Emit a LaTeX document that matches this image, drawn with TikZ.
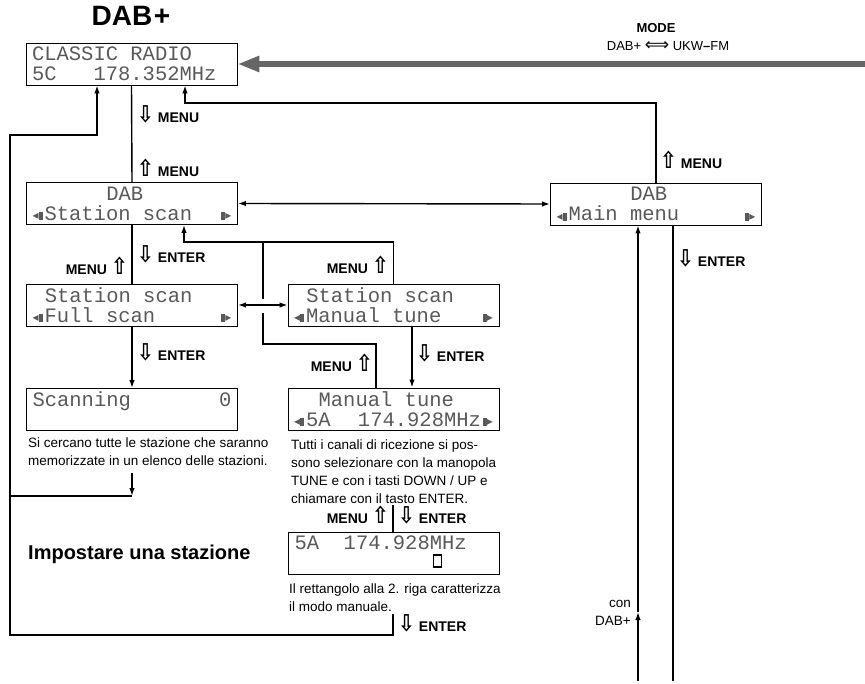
\documentclass[tikz,border=0pt]{standalone}
\usepackage{fontspec}
\setmainfont{Liberation Sans}
\newfontfamily\lcdfont{Liberation Mono}
\newfontfamily\symfont{DejaVu Sans}
\usepackage{graphicx}
\usepackage{xcolor}
\usetikzlibrary{arrows.meta}

\definecolor{lcdtext}{gray}{0.35}
\definecolor{modegray}{gray}{0.4}

% key arrows and display marks
\newcommand{\keyarrowdn}{{\symfont\fontsize{16}{16}\selectfont\scalebox{1.25}[1.45]{⇩}}}
\newcommand{\keyarrowup}{{\symfont\fontsize{16}{16}\selectfont\scalebox{1.25}[1.45]{⇧}}}
\newcommand{\downkey}[1]{\keyarrowdn\hspace{4pt}#1}
\newcommand{\upkey}[1]{\keyarrowup\hspace{4pt}#1}
\newcommand{\keyafter}[1]{#1\hspace{4pt}\keyarrowup}
\newcommand{\lcdgap}[1]{\hspace*{#1\dimexpr0.6em\relax}}
\newcommand{\lcdsp}{\lcdgap{1}}
\newcommand{\lmark}{\makebox[12pt][l]{\raisebox{0.5pt}{\symfont\fontsize{12}{12}\selectfont ◂}\rule{4pt}{8pt}}}
\newcommand{\rmark}{\makebox[12pt][r]{\rule{4pt}{8pt}\raisebox{0.5pt}{\symfont\fontsize{12}{12}\selectfont ▸}}}

\begin{document}
\begin{tikzpicture}[
    x=1pt, y=-1pt,
    lcd/.style={draw, line width=0.9pt, minimum width=211pt, minimum height=42pt,
        text width=199pt, inner xsep=6pt, inner ysep=0pt, align=left,
        font=\lcdfont\fontsize{20.5}{20}\selectfont, text=lcdtext},
    link/.style={line width=1.4pt},
    arr/.style={link, -{Latex[length=8pt,width=5.5pt]}},
    dblarr/.style={link, {Latex[length=8pt,width=5.5pt]}-{Latex[length=8pt,width=5.5pt]}},
    modearrow/.style={line width=6pt, draw=modegray, -{Triangle[length=22pt,width=15pt]}},
    key/.style={font=\bfseries\fontsize{14}{16}\selectfont, inner sep=0pt},
    note/.style={font=\fontsize{13.5}{18}\selectfont, align=left, inner sep=0pt}
]
    \useasboundingbox (0,0) rectangle (865,684);

    % Titles
    \node[font=\bfseries\fontsize{28}{28}\selectfont] (title) at (131,16) {DAB\kern1.5pt+};
    \node[font=\bfseries\fontsize{13}{13}\selectfont] (modekey) at (656,28) {MODE};
    \node[font=\fontsize{13}{13}\selectfont] (modeswap) at (668,46) {DAB+ {\symfont\fontsize{17}{17}\selectfont ⟺} UKW{\bfseries –}FM};
    \node[font=\bfseries\fontsize{20}{20}\selectfont, anchor=west, inner sep=0pt] (setlbl) at (28,554) {Impostare una stazione};

    % Displays
    \node[lcd] (radio) at (131.5,64) {CLASSIC\lcdsp RADIO\\5C\lcdgap{3}178.352MHz};
    \node[lcd] (scan) at (132,203.5) {\lcdgap{6}DAB\\\lmark Station\lcdsp scan\hfill\rmark};
    \node[lcd] (main) at (656,204) {\lcdgap{6}DAB\\\lmark Main\lcdsp menu\hfill\rmark};
    \node[lcd] (full) at (132,305) {\lcdgap{1}Station\lcdsp scan\\\lmark Full\lcdsp scan\hfill\rmark};
    \node[lcd] (manual) at (393.5,305) {\lcdgap{1}Station\lcdsp scan\\\lmark Manual\lcdsp tune\hfill\rmark};
    \node[lcd] (scanning) at (132,409.5) {Scanning\hfill0\\\mbox{}};
    \node[lcd] (tune) at (393.5,409) {\lcdgap{2}Manual\lcdsp tune\\\lmark 5A\hfill174.928MHz\rmark};
    \node[lcd] (freq) at (394,553) {5A\lcdgap{2}174.928MHz\\\mbox{}};
    \node[draw, line width=1.3pt, minimum width=8pt, minimum height=12pt, inner sep=0pt] (cursor) at (437.5,561) {};

    % Notes
    \node[note, anchor=west] (scannote) at (28,452) {Si cercano tutte le stazione che saranno\\memorizzate in un elenco delle stazioni.};
    \node[note, anchor=west] (tunenote) at (291,471.5) {Tutti i canali di ricezione si pos-\\sono selezionare con la manopola\\TUNE e con i tasti DOWN / UP e\\chiamare con il tasto ENTER.};
    \node[note, anchor=west] (freqnote) at (289,598) {Il rettangolo alla 2. riga caratterizza\\il modo manuale.};
    \node[note, align=right, anchor=east] (conlbl) at (631,613) {con\\DAB+};

    % Key labels
    \node[key, anchor=west] (k1) at (137,114) {\downkey{MENU}};
    \node[key, anchor=west] (k2) at (137,168) {\upkey{MENU}};
    \node[key, anchor=west] (k3) at (137,254) {\downkey{ENTER}};
    \node[key, anchor=east] (k4) at (128,266) {\keyafter{MENU}};
    \node[key, anchor=east] (k5) at (389,265) {\keyafter{MENU}};
    \node[key, anchor=west] (k6) at (137,352) {\downkey{ENTER}};
    \node[key, anchor=west] (k7) at (416,353) {\downkey{ENTER}};
    \node[key, anchor=east] (k8) at (373,363) {\keyafter{MENU}};
    \node[key, anchor=east] (k9) at (389,515) {\keyafter{MENU}};
    \node[key, anchor=west] (k10) at (398,515) {\downkey{ENTER}};
    \node[key, anchor=west] (k11) at (398,623) {\downkey{ENTER}};
    \node[key, anchor=west] (k12) at (660,160) {\upkey{MENU}};
    \node[key, anchor=west] (k13) at (677,258) {\downkey{ENTER}};

    % Corner points
    \coordinate (modein) at (865,64);
    \coordinate (ret) at (185,103);
    \coordinate (loopstart) at (393,614);
    \coordinate (loopcorner) at (10,635);
    \coordinate (looptop) at (97,135);
    \coordinate (scanout) at (132,473);
    \coordinate (scanjoin) at (132,496);
    \coordinate (back) at (184,242);
    \coordinate (tunetop) at (376,344);
    \coordinate (hop) at (263,344);
    \coordinate (hopbot) at (263,313);
    \coordinate (hoptop) at (263,299);
    \coordinate (tunein) at (412,388);
    \coordinate (freqin) at (393,505);
    \coordinate (conbot) at (638,681);
    \coordinate (conmid) at (638,612);
    \coordinate (enterbot) at (673,681);

    % Connectors
    \draw[modearrow] (modein) -- (radio.east);
    \draw[link] (radio.south) -- (scan.north);
    \draw[arr] (main.north) |- (ret) -- (ret |- radio.south);
    \draw[arr] (loopstart) |- (loopcorner) |- (looptop) -- (looptop |- radio.south);
    \draw[link] (scanjoin) -- (scanjoin -| loopcorner);
    \draw[arr] (scanout) -- (scanjoin);
    \draw[dblarr] (scan.east) -- (main.west);
    \draw[link] (scan.south) -- (full.north);
    \draw[dblarr] (full.east) -- (manual.west);
    \draw[arr] (manual.north) |- (back) -- (back |- scan.south);
    \draw[link] (tunetop |- tune.north) -- (tunetop) -- (hop) -- (hopbot);
    \draw[link] (hoptop) -- (hoptop |- back);
    \draw[arr] (full.south) -- (scanning.north);
    \draw[arr] (tunein |- manual.south) -- (tunein |- tune.north);
    \draw[link] (freqin) -- (freqin |- freq.north);
    \draw[arr] (conbot) -- (conmid);
    \draw[arr] (conmid) -- (conmid |- main.south);
    \draw[link] (enterbot |- main.south) -- (enterbot);
\end{tikzpicture}
\end{document}
